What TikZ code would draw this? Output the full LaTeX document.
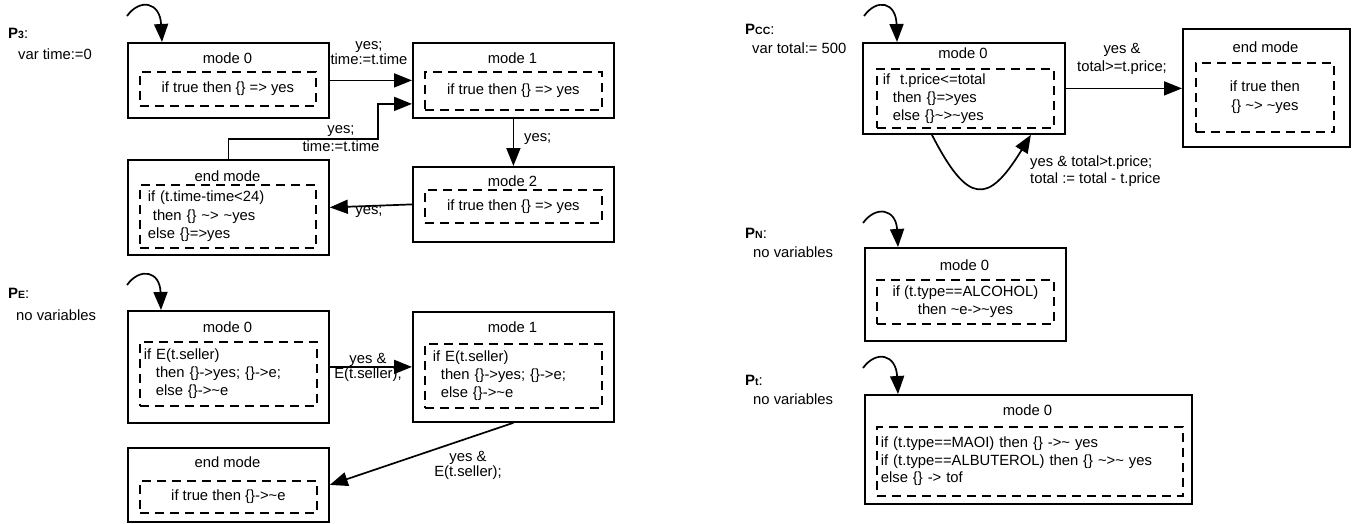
\documentclass[tikz,border=0pt]{standalone}
\usepackage{fontspec}
\setmainfont{Liberation Sans}
\usetikzlibrary{arrows.meta}
\newcommand\tld{\textasciitilde}
\newcommand\Pname[1]{{\fontsize{15}{18}\selectfont\bfseries P{\fontsize{10.5}{12}\selectfont #1}}:}
\begin{document}
\begin{tikzpicture}[x=1pt,y=-1pt,
  font=\fontsize{14.8}{18}\selectfont,
  box/.style={draw, line width=1.8pt, inner sep=0pt, anchor=north west},
  dbox/.style={draw, line width=1.8pt, dash pattern=on 9pt off 6pt, inner sep=0pt, anchor=north west},
  ttl/.style={inner sep=0pt},
  lbl/.style={inner sep=0pt, align=center},
  arr/.style={line width=1.7pt, -{Triangle[length=18pt,width=14pt]}},
  plab/.style={inner sep=0pt, anchor=base west},
  vlab/.style={inner sep=0pt, anchor=west},
  init/.style={line width=1.7pt, -{Triangle[length=18pt,width=14pt]}},
]
\useasboundingbox (0,0) rectangle (1356,523);

% ---------------- P3 ----------------
\node[plab] (p3name) at (8,38) {\Pname{3}};
\node[vlab] (p3var) at (18,54) {var time:=0};

\node[box, minimum width=201pt, minimum height=75pt] (p3m0) at (127,42) {};
\node[ttl] (p3m0t) at (227.5,58) {mode 0};
\node[dbox, minimum width=176pt, minimum height=34pt, align=center] (p3m0i) at (139,71) {if true then \{\} => yes};

\node[box, minimum width=201pt, minimum height=75pt] (p3m1) at (412,42) {};
\node[ttl] (p3m1t) at (512.5,58) {mode 1};
\node[dbox, minimum width=177pt, minimum height=38pt, align=center] (p3m1i) at (424,71) {if true then \{\} => yes};

\node[box, minimum width=201pt, minimum height=75pt] (p3m2) at (412,166) {};
\node[ttl] (p3m2t) at (512.5,181) {mode 2};
\node[dbox, minimum width=177pt, minimum height=33pt, align=center] (p3m2i) at (424,189) {if true then \{\} => yes};

\node[box, minimum width=201pt, minimum height=95pt] (p3end) at (127,159) {};
\node[ttl] (p3endt) at (227.5,176) {end mode};
\node[dbox, minimum height=63pt, text width=160pt, inner xsep=8pt, align=left,
  font=\fontsize{14.8}{18.5}\selectfont] (p3endi) at (139,184)
  {if (t.time-time<24)\\\hspace*{5pt}then \{\} \tld> \tld yes\\else \{\}=>yes};

\coordinate (p3in) at (127,16);
\draw[init] (p3in) .. controls (140,-2) and (160,2) .. ([xshift=35pt]p3m0.north west);

\draw[arr] (p3m0.east) -- (p3m1.west);
\node[lbl, font=\fontsize{14.8}{15}\selectfont] (p3l1) at (369,53.5) {yes;\\time:=t.time};

\draw[arr] (p3end.north) |- (378,139) |- ([yshift=-23.5pt]p3m1.west);
\node[lbl, font=\fontsize{14.8}{18}\selectfont] (p3l2) at (341,139) {yes;\\time:=t.time};

\draw[arr] (p3m1.south) -- (p3m2.north);
\node[vlab] (p3l3) at (524,139) {yes;};

\draw[arr] (p3m2.west) -- (p3end.east);
\node[lbl] (p3l4) at (369,212) {yes;};

% ---------------- PE ----------------
\node[plab] (pename) at (8,298) {\Pname{E}};
\node[vlab] (pevar) at (16,315) {no variables};

\node[box, minimum width=201pt, minimum height=112pt] (pem0) at (127,310) {};
\node[ttl] (pem0t) at (227.5,327) {mode 0};
\node[dbox, minimum height=64pt, text width=169pt, inner xsep=4pt, align=left] (pem0i) at (139,341)
  {if E(t.seller)\\\hspace*{12pt}then \{\}->yes; \{\}->e;\\\hspace*{12pt}else \{\}->\tld e};

\node[box, minimum width=201pt, minimum height=110pt] (pem1) at (412,311) {};
\node[ttl] (pem1t) at (512.5,327) {mode 1};
\node[dbox, minimum height=64pt, text width=161pt, inner xsep=8pt, align=left] (pem1i) at (424,343)
  {if E(t.seller)\\\hspace*{8pt}then \{\}->yes; \{\}->e;\\\hspace*{8pt}else \{\}->\tld e};

\node[box, minimum width=201pt, minimum height=74pt] (pend) at (127,447) {};
\node[ttl] (pendt) at (227.5,462) {end mode};
\node[dbox, minimum width=177pt, minimum height=32pt, align=center] (pendi) at (139,480) {if true then \{\}->\tld e};

\coordinate (pein) at (127,285);
\draw[init] (pein) .. controls (140,267) and (160,271) .. ([xshift=34pt]pem0.north west);

\draw[arr] (pem0.east) -- (pem1.west);
\node[lbl, font=\fontsize{14.8}{15}\selectfont] (pel1) at (368,367.5) {yes \&\\E(t.seller);};

\draw[arr] (pem1.south) -- (pend.east);
\node[lbl, font=\fontsize{14.8}{15}\selectfont] (pel2) at (468,465.5) {yes \&\\E(t.seller);};

% ---------------- Pcc ----------------
\node[plab] (pcname) at (745,34) {\Pname{CC}};
\node[vlab] (pcvar) at (752,48) {var total:= 500};

\node[box, minimum width=202pt, minimum height=91pt] (pcm0) at (862,42) {};
\node[ttl] (pcm0t) at (963,53) {mode 0};
\node[dbox, minimum height=59pt, text width=165pt, inner xsep=6pt, align=left] (pcm0i) at (876,68)
  {if\ \ t.price<=total\\\hspace*{10pt}then \{\}=>yes\\\hspace*{10pt}else \{\}\tld>\tld yes};

\node[box, minimum width=167pt, minimum height=118pt] (pcend) at (1182,28) {};
\node[ttl] (pcendt) at (1265.5,47) {end mode};
\node[dbox, minimum width=138pt, minimum height=69pt, align=center,
  font=\fontsize{14.8}{19}\selectfont] (pcendi) at (1195,62) {if true then\\\{\} \tld> \tld yes};

\coordinate (pcin) at (864,16);
\draw[init] (pcin) .. controls (877,-2) and (896,2) .. ([xshift=35pt]pcm0.north west);

\draw[arr] (pcm0.east) -- (pcm0.east -| pcend.west);
\node[lbl, font=\fontsize{14.8}{18}\selectfont] (pcl1) at (1122,59) {yes \&\\total>=t.price;};

\draw[arr] ([xshift=-32pt]pcm0.south) .. controls (968,205) and (988,205) .. ([xshift=67pt]pcm0.south);
\node[vlab, align=left, font=\fontsize{14.8}{17}\selectfont] (pcl2) at (1030,171.5) {yes \& total>t.price;\\total := total - t.price};

% ---------------- PN ----------------
\node[plab] (pnname) at (745,238) {\Pname{N}};
\node[vlab] (pnvar) at (753,252) {no variables};

\node[box, minimum width=201pt, minimum height=93pt] (pnm0) at (864,247) {};
\node[ttl] (pnm0t) at (964.5,265) {mode 0};
\node[dbox, minimum width=177pt, minimum height=44pt, align=center] (pnm0i) at (876,279)
  {if (t.type==ALCOHOL)\\then \tld e->\tld yes};

\coordinate (pnin) at (863,223);
\draw[init] (pnin) .. controls (876,205) and (896,209) .. ([xshift=34pt]pnm0.north west);

% ---------------- Pt ----------------
\node[plab] (ptname) at (745,385) {\Pname{t}};
\node[vlab] (ptvar) at (753,399) {no variables};

\node[box, minimum width=327pt, minimum height=109pt] (ptm0) at (864,394) {};
\node[ttl] (ptm0t) at (1027.5,410) {mode 0};
\node[dbox, minimum height=69pt, text width=298pt, inner xsep=4pt, align=left,
  font=\fontsize{14.8}{17.5}\selectfont] (ptm0i) at (876,426)
  {if (t.type==MAOI) then \{\} ->\tld{} yes\\if (t.type==ALBUTEROL) then \{\} \tld>\tld{} yes\\else \{\} -> tof};

\coordinate (ptin) at (863,368);
\draw[init] (ptin) .. controls (876,350) and (896,354) .. ([xshift=34pt]ptm0.north west);

\end{tikzpicture}
\end{document}
